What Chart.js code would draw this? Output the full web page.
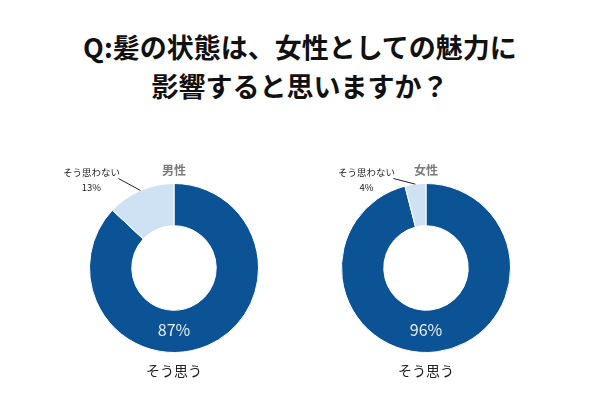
<!DOCTYPE html>
<html lang="ja">
<head>
<meta charset="utf-8">
<script src="https://cdn.jsdelivr.net/npm/chart.js@4"></script>
<style>
  body { margin: 0; background: #fff; font-family: "Noto Sans CJK JP", sans-serif; }
  #wrap { position: relative; width: 600px; height: 400px; overflow: hidden; }
  h1 { position: absolute; left: 0; top: 27px; width: 600px; margin: 0; text-align: center;
       font-size: 27px; line-height: 39px; font-weight: bold; color: #111; }
  canvas { position: absolute; }
  #menChart { left: 24px; top: 150px; }
  #womenChart { left: 276px; top: 150px; }
</style>
</head>
<body>
<div id="wrap">
  <h1>Q:髪の状態は、女性としての魅力に<br>影響すると思いますか？</h1>
  <canvas id="menChart" width="300" height="236"></canvas>
  <canvas id="womenChart" width="300" height="236"></canvas>
</div>
<script>
const answers = ['そう思う', 'そう思わない'];
const menValues = [87, 13];
const womenValues = [96, 4];
const groups = ['男性', '女性'];
const sliceColors = ['#0b5394', '#cfe2f3'];

const jpFont = '"Noto Sans CJK JP", sans-serif';

// Draws the group name, the answer labels and the leader line for the small slice
const donutLabels = {
    id: 'donutLabels',
    afterDatasetsDraw(chart, args, opts) {
        const ctx = chart.ctx;
        const values = chart.data.datasets[0].data;
        const total = values.reduce((a, b) => a + b, 0);
        const arcs = chart.getDatasetMeta(0).data;
        const big = arcs[0];
        const small = arcs[1];
        const cx = big.x, cy = big.y, r = big.outerRadius;

        ctx.save();
        ctx.textAlign = 'center';
        ctx.textBaseline = 'middle';

        // group title
        ctx.fillStyle = '#7a7a7a';
        ctx.font = 'bold 12px ' + jpFont;
        ctx.fillText(opts.group, cx, cy - r - 13);

        // big slice value inside the ring
        ctx.fillStyle = '#e6edf5';
        ctx.font = '16px ' + jpFont;
        ctx.fillText(Math.round(values[0] / total * 100) + '%', cx, cy + r * 0.73);

        // big slice name under the chart
        ctx.fillStyle = '#222';
        ctx.font = '14px ' + jpFont;
        ctx.fillText(chart.data.labels[0], cx, cy + r + 18);

        // leader line from the small slice
        const mid = (small.startAngle + small.endAngle) / 2;
        const sx = cx + Math.cos(mid) * r;
        const sy = cy + Math.sin(mid) * r;
        const ex = sx - 22;
        const ey = cy - r - 5;
        ctx.strokeStyle = '#222';
        ctx.lineWidth = 1;
        ctx.beginPath();
        ctx.moveTo(sx, sy);
        ctx.lineTo(ex, ey);
        ctx.stroke();

        ctx.fillStyle = '#222';
        ctx.font = '9.5px ' + jpFont;
        ctx.fillText(chart.data.labels[1], ex - 27, ey - 6);
        ctx.fillText(Math.round(values[1] / total * 100) + '%', ex - 27, ey + 9);
        ctx.restore();
    }
};

function makeDonut(id, values, group) {
    return new Chart(document.getElementById(id), {
        type: 'doughnut',
        data: {
            labels: answers,
            datasets: [{
                data: values,
                backgroundColor: sliceColors,
                borderColor: '#ffffff',
                borderWidth: 1
            }]
        },
        options: {
            responsive: false,
            animation: false,
            cutout: '50%',
            layout: { padding: { top: 33, bottom: 33 } },
            plugins: {
                legend: { display: false },
                tooltip: { enabled: false },
                donutLabels: { group: group }
            }
        },
        plugins: [donutLabels]
    });
}

makeDonut('menChart', menValues, groups[0]);
makeDonut('womenChart', womenValues, groups[1]);
</script>
</body>
</html>
